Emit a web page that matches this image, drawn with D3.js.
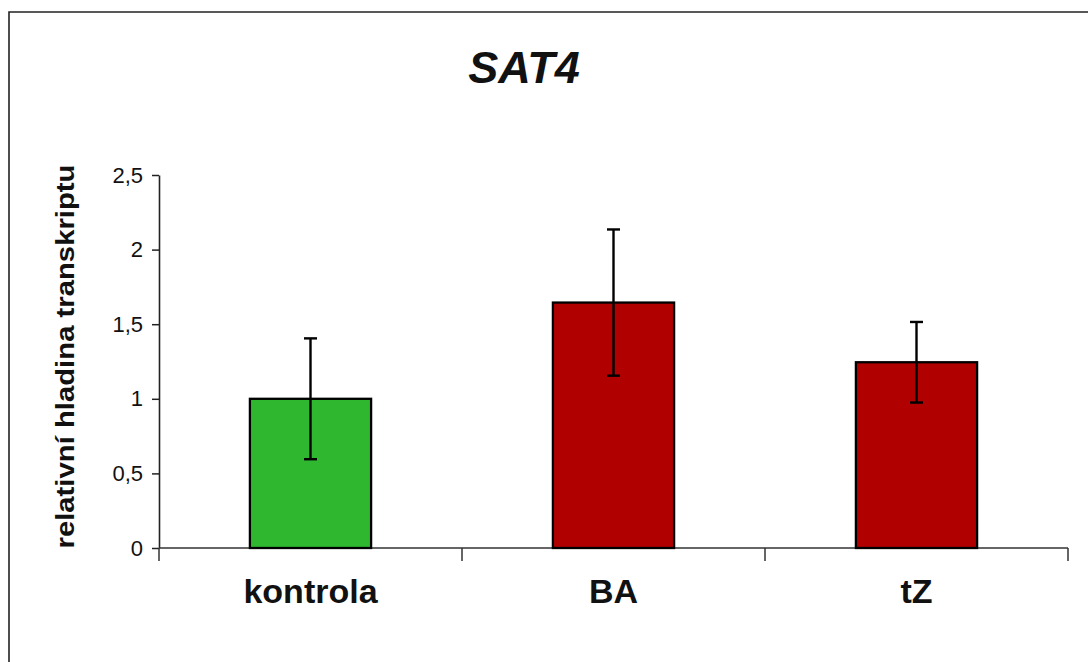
<!DOCTYPE html>
<html>
<head>
<meta charset="utf-8">
<script src="https://cdn.jsdelivr.net/npm/d3@7"></script>
<style>
  html, body { margin: 0; padding: 0; background: #fff; }
  svg { display: block; }
  text { font-family: Arial, "Liberation Sans", sans-serif; }
</style>
</head>
<body>
<svg id="chart" width="1088" height="662"></svg>
<script>
// Relative transcript level of SAT4 under cytokinin treatments
const categories = ["kontrola", "BA", "tZ"];
const means = [1.0, 1.645, 1.245];
const errors = [0.405, 0.49, 0.27];
const barColors = ["#2fb82f", "#b00000", "#b00000"];
const yTicks = [0, 0.5, 1, 1.5, 2, 2.5];
const titleText = "SAT4";
const yLabel = "relativní hladina transkriptu";

const svg = d3.select("#chart");

// outer frame of the chart area
svg.append("path")
  .attr("d", "M9,662 V12 H1088")
  .attr("fill", "none")
  .attr("stroke", "#222")
  .attr("stroke-width", 1.6);

const plot = { left: 159, right: 1068, top: 175, bottom: 548 };

const x = d3.scaleBand()
  .domain(categories)
  .range([plot.left, plot.right])
  .paddingInner(0.6)
  .paddingOuter(0.3);

const y = d3.scaleLinear()
  .domain([0, 2.5])
  .range([plot.bottom, plot.top]);

const commaFmt = d3.formatLocale({ decimal: ",", thousands: " ", grouping: [3], currency: ["", ""] }).format("~g");

// y axis
const yAxis = svg.append("g")
  .attr("transform", `translate(${plot.left},0)`)
  .call(d3.axisLeft(y).tickValues(yTicks).tickSize(7).tickSizeOuter(0).tickPadding(9).tickFormat(commaFmt));
yAxis.select(".domain").attr("stroke", "#222").attr("stroke-width", 1.6);
yAxis.selectAll(".tick line").attr("stroke", "#222").attr("stroke-width", 1.5);
yAxis.selectAll(".tick text")
  .attr("font-size", 22)
  .attr("fill", "#111")
  .attr("font-family", "Arial, 'Liberation Sans', sans-serif");

// x axis baseline and category separators
const step = x.step();
const gap = step - x.bandwidth();
const boundaries = categories.map(c => x(c) - gap / 2).concat([x(categories[categories.length - 1]) + x.bandwidth() + gap / 2]);

svg.append("line")
  .attr("x1", plot.left).attr("x2", plot.right)
  .attr("y1", y(0)).attr("y2", y(0))
  .attr("stroke", "#333").attr("stroke-width", 1.5);

svg.selectAll(".sep")
  .data(boundaries)
  .join("line")
  .attr("class", "sep")
  .attr("x1", d => d).attr("x2", d => d)
  .attr("y1", y(0)).attr("y2", y(0) + 13)
  .attr("stroke", "#333").attr("stroke-width", 1.5);

// bars
svg.selectAll(".bar")
  .data(categories)
  .join("rect")
  .attr("class", "bar")
  .attr("x", d => x(d))
  .attr("width", x.bandwidth())
  .attr("y", (d, i) => y(means[i]))
  .attr("height", (d, i) => y(0) - y(means[i]))
  .attr("fill", (d, i) => barColors[i])
  .attr("stroke", "#000")
  .attr("stroke-width", 2.3);

// error bars
const cap = 6.5;
const eb = svg.selectAll(".err")
  .data(categories)
  .join("g")
  .attr("class", "err")
  .attr("stroke", "#000")
  .attr("stroke-width", 2.4);
eb.append("line")
  .attr("x1", d => x(d) + x.bandwidth() / 2)
  .attr("x2", d => x(d) + x.bandwidth() / 2)
  .attr("y1", (d, i) => y(means[i] + errors[i]))
  .attr("y2", (d, i) => y(means[i] - errors[i]));
eb.append("line")
  .attr("x1", d => x(d) + x.bandwidth() / 2 - cap)
  .attr("x2", d => x(d) + x.bandwidth() / 2 + cap)
  .attr("y1", (d, i) => y(means[i] + errors[i]))
  .attr("y2", (d, i) => y(means[i] + errors[i]));
eb.append("line")
  .attr("x1", d => x(d) + x.bandwidth() / 2 - cap)
  .attr("x2", d => x(d) + x.bandwidth() / 2 + cap)
  .attr("y1", (d, i) => y(means[i] - errors[i]))
  .attr("y2", (d, i) => y(means[i] - errors[i]));

// category labels
svg.selectAll(".cat")
  .data(categories)
  .join("text")
  .attr("class", "cat")
  .attr("x", d => x(d) + x.bandwidth() / 2)
  .attr("y", 603)
  .attr("text-anchor", "middle")
  .attr("font-size", 34)
  .attr("font-weight", "bold")
  .attr("fill", "#111")
  .text(d => d);

// y axis title
svg.append("text")
  .attr("transform", `translate(74,${(plot.top + plot.bottom) / 2 - 5}) rotate(-90)`)
  .attr("text-anchor", "middle")
  .attr("font-size", 25)
  .attr("font-weight", "bold")
  .attr("fill", "#111")
  .attr("textLength", 384)
  .attr("lengthAdjust", "spacingAndGlyphs")
  .text(yLabel);

// chart title
svg.append("text")
  .attr("x", 524)
  .attr("y", 83)
  .attr("text-anchor", "middle")
  .attr("font-size", 45)
  .attr("font-weight", "bold")
  .attr("font-style", "italic")
  .attr("fill", "#111")
  .text(titleText);
</script>
</body>
</html>
